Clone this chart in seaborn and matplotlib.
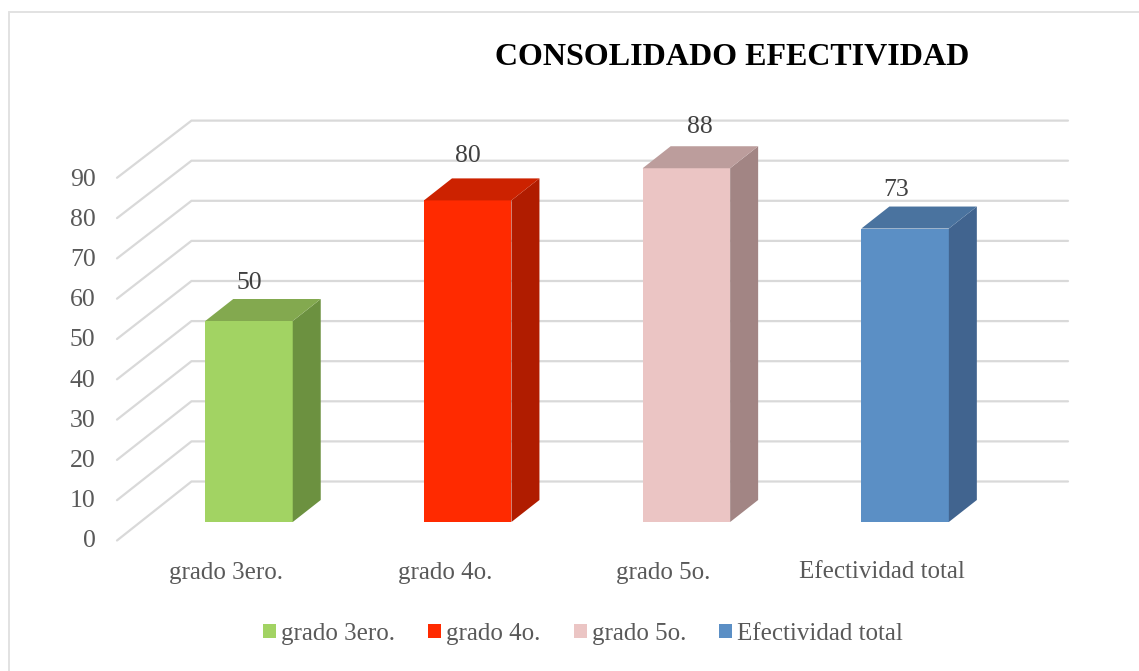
import matplotlib
matplotlib.use('Agg')
import matplotlib.pyplot as plt
from matplotlib.patches import Polygon, Patch
import pandas as pd
import seaborn as sns

categorias = ['grado 3ero.', 'grado 4o.', 'grado 5o.', 'Efectividad total']
valores = [50, 80, 88, 73]
colores = ['#A2D363', '#FF2A00', '#EBC5C4', '#5B8FC5']
colores_tapa = ['#83A94F', '#CC2200', '#BC9D9C', '#4A739F']
colores_lado = ['#6C9140', '#B01C00', '#A28584', '#41648F']
ticks = [0, 10, 20, 30, 40, 50, 60, 70, 80, 90]
# desplazamiento (px) de cada etiqueta respecto a su barra
sube_etiqueta = [27, 33, 30, 28]
mueve_etiqueta = [0, 0, 13, -9]

W, H = 1139, 671
sns.set_theme(style='white')
plt.rcParams['font.family'] = ['Liberation Serif', 'DejaVu Serif']
gris = '#595959'

fig = plt.figure(figsize=(W / 100, H / 100), dpi=100)
ax = fig.add_axes([0, 0, 1, 1])

df = pd.DataFrame({'grado': categorias, 'valor': valores})
sns.barplot(data=df, x='grado', y='valor', hue='grado', palette=colores,
            width=0.4, legend=False, saturation=1, linewidth=0, ax=ax, zorder=3)

# escala: 218.7 px por categoria, 4.02 px por unidad, base de barras en y=522 px
px_x = 218.7
px_y = 4.02
ax.set_xlim((0 - 249) / px_x, (W - 249) / px_x)
ax.set_ylim((522 - H) / px_y, 522 / px_y)
ax.axis('off')


def dx(p):
    return p / px_x


def dy(p):
    return p / px_y


def xpx(p):
    return (p - 249) / px_x


def ypx(p):
    return (522 - p) / px_y


# marco
ax.plot([xpx(8.5), xpx(8.5)], [ypx(H), ypx(11.5)], color='#E2E2E2', lw=1.4, zorder=1)
ax.plot([xpx(8.5), xpx(W)], [ypx(11.5), ypx(11.5)], color='#E2E2E2', lw=1.4, zorder=1)

# rejilla 3D
for t in ticks:
    y_frente = ypx(540.5 - 4.03 * t)
    y_fondo = ypx(481.5 - 4.01 * t)
    ax.plot([xpx(117), xpx(191.5), xpx(1068)], [y_frente, y_fondo, y_fondo],
            color='#D9D9D9', lw=1.6, zorder=1, solid_joinstyle='miter')
    ax.text(xpx(95.5), ypx(538.5 - 4.01 * t), str(t), ha='right', va='center_baseline',
            fontsize=18.5, color=gris)

# lados y tapas de las barras
for i, v in enumerate(valores):
    izq, der = i - 0.2, i + 0.2
    ax.add_patch(Polygon([(der, 0), (der + dx(28), dy(22)), (der + dx(28), v + dy(22)), (der, v)],
                         fc=colores_lado[i], ec='none', zorder=3))
    ax.add_patch(Polygon([(izq, v), (der, v), (der + dx(28), v + dy(22)), (izq + dx(28), v + dy(22))],
                         fc=colores_tapa[i], ec='none', zorder=3))
    ax.text(i + dx(mueve_etiqueta[i]), v + dy(sube_etiqueta[i]), str(v), ha='center', va='bottom',
            fontsize=18.5, color='#404040', zorder=4)
    ax.text(i - dx(23), ypx(570), categorias[i], ha='center', va='center_baseline',
            fontsize=18, color=gris)

ax.text(xpx(732), ypx(54), 'CONSOLIDADO EFECTIVIDAD', ha='center', va='center_baseline',
        fontsize=23, fontweight='bold', color='black')

handles = [Patch(fc=c, ec='none') for c in colores]
ax.legend(handles, categorias, loc='center', bbox_to_anchor=(583 / W, 1 - 634 / H),
          ncol=4, frameon=False, fontsize=18, labelcolor=gris, handlelength=0.52,
          handleheight=0.52, handletextpad=0.2, columnspacing=1.33)

fig.savefig('out.png', dpi=100, facecolor='white')
